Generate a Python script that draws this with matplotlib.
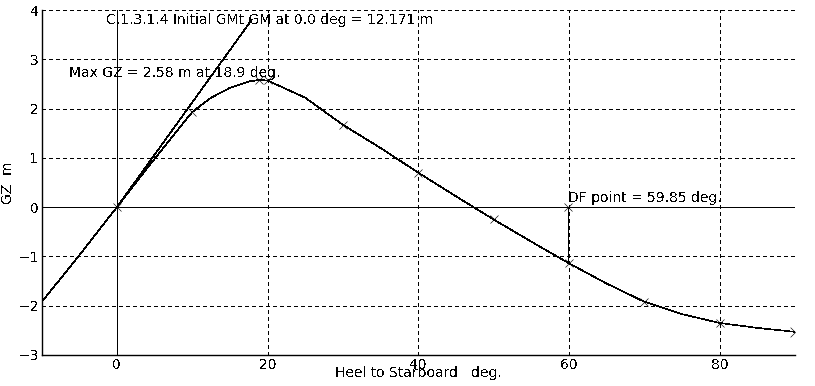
import numpy as np
import matplotlib
matplotlib.use("Agg")
import matplotlib.pyplot as plt
from matplotlib.path import Path

plt.rcParams["font.family"] = ["DejaVu Sans"]
plt.rcParams["font.size"] = 10
plt.rcParams["text.antialiased"] = False
plt.rcParams["lines.antialiased"] = False

# GZ curve (heel deg, GZ m)
heel = [-10, -5, 0, 5, 10, 12.5, 15, 17.5, 18.9, 20, 25, 30, 35, 40, 45, 50, 55, 60, 65, 70, 75, 80, 85, 90]
gz = [-1.93, -0.98, 0.0, 0.98, 1.93, 2.22, 2.42, 2.55, 2.58, 2.57, 2.22, 1.67, 1.20, 0.70, 0.22, -0.25, -0.70, -1.14, -1.55, -1.92, -2.17, -2.35, -2.45, -2.53]
# points that carry a cross marker
mark_heel = [0, 10, 18.9, 20, 30, 40, 50, 60, 70, 80]

gm = 12.171          # initial GMt, m
gm_end = 17.9        # where the GM line stops, deg
df_angle = 59.85     # downflooding point, deg
df_gz = -1.14
max_gz, max_at = 2.58, 18.9

LW = 0.72  # one pixel
THIN = 0.45

fig = plt.figure(figsize=(8.15, 3.86), dpi=100)
ax = fig.add_axes([41.5 / 815, 31 / 386, (795 - 41.5) / 815, (355 - 10) / 386])
ax.set_xlim(-10, 90)
ax.set_ylim(-3, 4)

# grid
for xv in [20, 40, 60, 80]:
    ax.axvline(xv, color="black", lw=LW, ls=(0, (4, 4)), zorder=1)
for yv in [-2, -1, 1, 2, 3, 4]:
    ax.axhline(yv, color="black", lw=LW, ls=(0, (4, 4)), zorder=1)
ax.axvline(0, color="black", lw=LW, zorder=1)
ax.axhline(0, color="black", lw=LW, zorder=1)

ax.plot(heel, gz, color="black", lw=THIN, zorder=3)
mk = [gz[heel.index(h)] for h in mark_heel]
ax.plot(mark_heel, mk, ls="none", marker="x", ms=6, mew=THIN, color="black", zorder=4)
chev = Path([(-1, 1), (0, 0), (-1, -1)], [Path.MOVETO, Path.LINETO, Path.LINETO])
ax.plot(heel[-1], gz[-1], marker=chev, ms=7, mew=THIN, mfc="none", color="black", zorder=4, clip_on=False)

# initial GM line
ax.plot([0, gm_end], [0, gm * gm_end / 57.2958], color="black", lw=THIN, zorder=3)
ax.text(-1.4, 3.80, "C.1.3.1.4 Initial GMt GM at 0.0 deg = 12.171 m", ha="left", va="center")
ax.text(-6.4, 2.72, "Max GZ = %.2f m at %.1f deg." % (max_gz, max_at), ha="left", va="center")

# downflooding point
ax.plot([df_angle, df_angle], [0, df_gz], color="black", lw=LW, zorder=3)
ax.plot(df_angle, 0, marker="x", ms=6, mew=THIN, color="black", zorder=4)
ax.text(df_angle, 0.18, "DF point = %.2f deg." % df_angle, ha="left", va="center")

for s in ["top", "right"]:
    ax.spines[s].set_visible(False)
for s in ["left", "bottom"]:
    ax.spines[s].set_linewidth(LW * 1.4)
ax.set_xticks([0, 20, 40, 60, 80])
ax.set_yticks(range(-3, 5))
ax.tick_params(length=0, pad=2)
ax.set_xlabel("Heel to Starboard   deg.", labelpad=-4)
ax.set_ylabel("GZ  m", labelpad=2)

fig.savefig("out.png", dpi=100)
